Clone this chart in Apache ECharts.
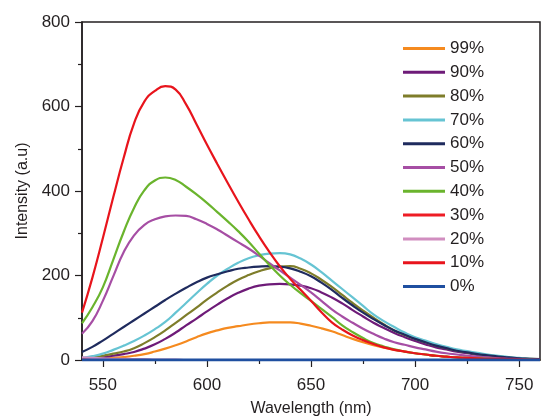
<!DOCTYPE html>
<html>
<head>
<meta charset="utf-8">
<script src="https://cdn.jsdelivr.net/npm/echarts@6/dist/echarts.min.js"></script>
<style>html,body{margin:0;padding:0;background:#fff;}#c{width:542px;height:416px;}</style>
</head>
<body>
<div id="c"></div>
<script>
var wavelengths = [540,545,550,555,560,565,570,575,580,585,590,595,600,605,610,615,620,625,630,635,640,645,650,655,660,665,670,675,680,685,690,695,700,705,710,715,720,725,730,735,740,745,750,755,760];
var xTickLabels = [550,600,650,700,750];
var xMinorTicks = [575,625,675,725];
var seriesNames = ['99%','90%','80%','70%','60%','50%','40%','30%','20%','10%','0%'];
var s99 = [1,2,3,5,7,10,14,20,27,35,44,54,63,70,76,80,84,87,89,89,89,86,81,75,68,59,50,42,35,29,24,20,16,13,10,8,6,5,4,3,2,2,1,1,0];
var s90 = [2,4,6,10,14,19,27,37,50,65,82,98,115,131,146,159,169,176,179,180,179,176,170,160,148,134,118,103,88,76,64,54,45,37,30,25,20,16,12,9,7,5,3,2,1];
var s80 = [3,6,10,15,20,28,40,54,70,88,106,124,143,160,176,190,201,210,217,221,222,216,205,190,173,154,135,117,100,84,70,59,50,42,34,28,22,18,14,11,8,6,4,3,2];
var s70 = [5,9,15,24,34,45,58,73,90,112,135,158,180,200,216,230,241,248,252,253,250,240,226,208,188,168,148,128,108,92,78,65,54,46,38,31,25,21,17,13,10,7,5,3,2];
var s60 = [19,31,46,62,78,94,110,126,142,157,171,184,195,203,210,216,219,221,222,221,217,209,198,183,166,147,129,112,97,83,70,60,50,42,34,28,22,18,14,11,8,6,4,3,2];
var s50 = [62,92,140,198,255,295,320,333,340,342,341,333,322,309,294,279,264,247,229,212,195,178,160,140,120,103,88,74,62,51,42,36,30,25,20,16,13,10,8,6,4,3,2,1,0];
var s40 = [87,125,172,237,303,360,402,425,432,426,410,392,372,350,328,305,280,252,225,200,178,158,140,121,102,82,66,52,40,32,25,20,16,13,10,8,6,5,4,3,2,2,1,1,0];
var s30 = [2,1,1,1,0,0,0,0,0,0,0,0,0,0,0,0,0,0,0,0,0,0,0,0,0,0,0,0,0,0,0,0,0,0,0,0,0,0,0,0,0,0,0,0,0];
var s20 = [6,5,4,3,3,2,2,1,1,1,0,0,0,0,0,0,0,0,0,0,0,0,0,0,0,0,0,0,0,0,0,0,0,0,0,0,0,0,0,0,0,0,0,0,0];
var s10 = [112,195,288,385,478,560,612,637,648,640,605,558,510,464,419,375,333,293,256,222,192,166,140,113,89,72,58,47,38,30,24,20,16,13,10,8,6,5,4,3,3,2,2,1,1];
var s0 = [0,0,0,0,0,0,0,0,0,0,0,0,0,0,0,0,0,0,0,0,0,0,0,0,0,0,0,0,0,0,0,0,0,0,0,0,0,0,0,0,0,0,0,0,0];
var colors = ['#f58a1f','#6e1b78','#7e7d2a','#66c4d3','#1f2b5e','#a64ea4','#6ab42d','#ee1c25','#d18ec0','#e8141c','#1f4fa0'];
var allValues = [s99,s90,s80,s70,s60,s50,s40,s30,s20,s10,s0];

var FONT = '"Liberation Sans", Arial, sans-serif';
var chart = echarts.init(document.getElementById('c'), null, {renderer:'canvas'});
var series = seriesNames.map(function(n,i){
  return {
    name:n, type:'line', smooth:0.5, showSymbol:false, symbol:'none',
    lineStyle:{color:colors[i], width:(n==='0%'?3:2.2)}, itemStyle:{color:colors[i]},
    data: wavelengths.map(function(w,j){return [w, allValues[i][j]];}),
    animation:false, xAxisIndex:0
  };
});
chart.setOption({
  animation:false,
  backgroundColor:'#fff',
  grid:{left:82, right:2, top:22, bottom:56, outerBoundsMode:'none', containLabel:false, show:true, borderColor:'#231f20', borderWidth:1.5, backgroundColor:'transparent'},
  legend:{
    orient:'vertical', left:403, top:40, padding:0, itemWidth:42, itemHeight:3, itemGap:6.8,
    icon:'rect', data:seriesNames,
    textStyle:{fontFamily:FONT, fontSize:17, color:'#231f20'}
  },
  xAxis:[{
    type:'value', min:540, max:760,
    name:'Wavelength (nm)', nameLocation:'middle', nameGap:41,
    nameTextStyle:{fontFamily:FONT, fontSize:16, color:'#231f20'},
    axisLine:{onZero:false, lineStyle:{color:'#231f20', width:1.5}},
    axisTick:{show:true, length:7, customValues:xTickLabels, lineStyle:{color:'#231f20', width:1.2}},
    axisLabel:{customValues:xTickLabels, fontFamily:FONT, fontSize:17, color:'#231f20', margin:17},
    splitLine:{show:false}
  },{
    type:'value', min:540, max:760, position:'bottom',
    axisLine:{show:false},
    axisTick:{show:true, length:4, customValues:xMinorTicks, lineStyle:{color:'#231f20', width:1.2}},
    axisLabel:{show:false}, splitLine:{show:false}
  }],
  yAxis:{
    type:'value', min:0, max:800, interval:200,
    name:'Intensity (a.u)', nameLocation:'middle', nameGap:50, nameRotate:90,
    nameTextStyle:{fontFamily:FONT, fontSize:16, color:'#231f20'},
    axisLine:{show:true, lineStyle:{color:'#231f20', width:1.5}},
    axisTick:{show:true, length:7, lineStyle:{color:'#231f20', width:1.2}},
    minorTick:{show:true, splitNumber:2, length:4, lineStyle:{color:'#231f20', width:1.2}},
    axisLabel:{fontFamily:FONT, fontSize:17, color:'#231f20', margin:12},
    splitLine:{show:false}
  },
  series: series
});
</script>
</body>
</html>
